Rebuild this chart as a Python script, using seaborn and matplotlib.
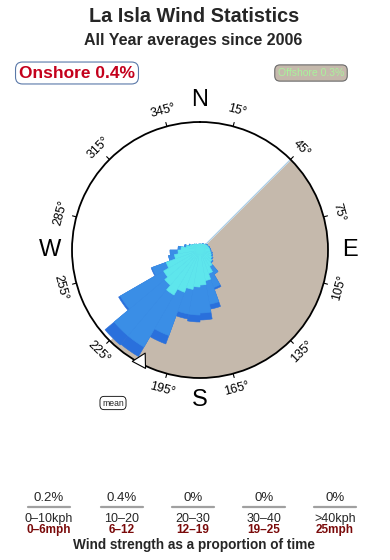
import numpy as np
import pandas as pd
import matplotlib
matplotlib.use("Agg")
import matplotlib.pyplot as plt
from matplotlib.lines import Line2D
import seaborn as sns

# ---------------- data ----------------
directions = [5, 15, 25, 35, 45, 55, 65, 75, 85, 95, 105, 115, 125, 135, 145, 155, 165, 175,
              185, 195, 205, 215, 225, 235, 245, 255, 265, 275, 285, 295, 305, 315, 325, 335, 345, 355]
# stacked frequency per direction (relative units, rim = 128)
speed_0_10 = [6, 6, 6.5, 7, 7.5, 8, 8.5, 9, 9.5, 10, 11, 12, 13.5, 15.5, 19, 25, 31, 35,
              37, 40, 45, 52, 46, 42, 36, 26, 22, 19, 14, 11, 9, 8, 7, 6, 6, 6]
speed_10_20 = [0, 0, 0.5, 0, 0.5, 1, 0.5, 1, 1, 1, 1.5, 1.5, 1.5, 1.5, 9, 15, 24, 28,
               28, 25, 46, 60, 66, 50, 15, 6, 8, 3, 2, 1, 0, 0, 0, 0, 0, 0]
speed_20_30 = [0, 0, 0, 0, 0, 0, 0, 0, 0, 0, 0, 0, 0, 0, 0, 2, 5, 7,
               7, 5, 9, 11, 12, 2, 1, 0, 0, 0, 0, 0, 0, 0, 0, 0, 0, 0]
sector_width = 10
rim_value = 128
offshore_start, offshore_end = 45, 225
mean_direction = 208

degree_labels = [15, 45, 75, 105, 135, 165, 195, 225, 255, 285, 315, 345]
cardinals = ["N", "E", "S", "W"]
cardinal_dirs = [0, 90, 180, 270]

bin_pct = ["0.2%", "0.4%", "0%", "0%", "0%"]
bin_kph = ["0\u201310kph", "10\u201320", "20\u201330", "30\u201340", ">40kph"]
bin_mph = ["0\u20136mph", "6\u201312", "12\u201319", "19\u201325", "25mph"]

title = "La Isla Wind Statistics"
subtitle = "All Year averages since 2006"
onshore_text = "Onshore 0.4%"
offshore_text = "Offshore 0.3%"
footer = "Wind strength as a proportion of time"

# ---------------- style ----------------
sns.set_theme(style="white")
plt.rcParams["font.family"] = ["Liberation Sans", "DejaVu Sans"]

c_cyan = "#5ee6ec"
c_mid = "#3a8ee6"
c_dark = "#2a70dc"
c_tan = "#c5b9ac"

W, H = 390, 560
fig = plt.figure(figsize=(W / 100, H / 100), dpi=100)
fig.patch.set_facecolor("white")

cx, cy, R = 200, 250, 128
ax = fig.add_axes([(cx - R) / W, (H - cy - R) / H, 2 * R / W, 2 * R / H], projection="polar")
ax.set_theta_zero_location("N")
ax.set_theta_direction(-1)
ax.set_facecolor("white")

# offshore sector
th = np.radians(np.linspace(offshore_start, offshore_end, 200))
ax.fill_between(th, 0, rim_value, color=c_tan, zorder=0.5, linewidth=0)
ax.plot([np.radians(offshore_start)] * 2, [0, rim_value], color="#a8cce8", lw=0.8, zorder=0.6)

# stacked bars, drawn as overlapping cumulative layers
df = pd.DataFrame({
    "theta": np.radians(directions),
    "low": speed_0_10,
    "mid": speed_10_20,
    "high": speed_20_30,
})
df["cum_mid"] = df["low"] + df["mid"]
df["cum_high"] = df["cum_mid"] + df["high"]

bw = np.radians(sector_width)
for col, colr in [("cum_high", c_dark), ("cum_mid", c_mid), ("low", c_cyan)]:
    n0 = len(ax.patches)
    sns.barplot(data=df, x="theta", y=col, native_scale=True, width=1.0, color=colr,
                saturation=1, errorbar=None, linewidth=0, ax=ax, zorder=2)
    # make every sector span its full bin width, and hide seams between sectors
    for p in ax.patches[n0:]:
        c = p.get_x() + p.get_width() / 2
        p.set_x(c - bw / 2)
        p.set_width(bw)
        p.set_edgecolor(colr)
        p.set_linewidth(0.4)

ax.set_xlabel("")
ax.set_ylabel("")
ax.set_xticks([])
ax.set_yticks([])
ax.grid(False)
ax.set_ylim(0, rim_value)
ax.set_xlim(0, 2 * np.pi)
ax.spines["polar"].set_color("black")
ax.spines["polar"].set_linewidth(1.3)

# degree ticks and labels
for d in degree_labels:
    t = np.radians(d)
    ax.plot([t, t], [rim_value, rim_value + 4], color="black", lw=0.8, clip_on=False)
    rot = -d
    if 90 < d < 270:
        rot = 180 - d
    ax.text(t, rim_value + 16, f"{d}\u00b0", rotation=rot,
            ha="center", va="center", fontsize=9, color="black", clip_on=False)

for lab, d in zip(cardinals, cardinal_dirs):
    ax.text(np.radians(d), rim_value + 22, lab, ha="center", va="center", fontsize=17,
            color="black", clip_on=False)

# mean direction arrow
tm = np.radians(mean_direction)
ax.annotate("", xy=(tm, rim_value - 14), xytext=(tm, rim_value - 1),
            arrowprops=dict(arrowstyle="simple,head_length=0.8,head_width=0.9,tail_width=0.35",
                            fc="white", ec="black", lw=0.8), zorder=5)

# ---------------- texts ----------------
def fx(x):
    return x / W

def fy(y):
    return 1 - y / H

fig.text(fx(194), fy(17), title, ha="center", va="center", fontsize=14.3, fontweight="bold")
fig.text(fx(193), fy(41), subtitle, ha="center", va="center", fontsize=11.5, fontweight="bold")

fig.text(fx(77), fy(73), onshore_text, ha="center", va="center", fontsize=12.5, fontweight="bold",
         color="#c4001c",
         bbox=dict(boxstyle="round,pad=0.2,rounding_size=0.4", fc="white", ec="#5a78a8", lw=0.8))
fig.text(fx(311), fy(73), offshore_text, ha="center", va="center", fontsize=7.5,
         color="#aaf29c",
         bbox=dict(boxstyle="round,pad=0.3,rounding_size=0.5", fc=c_tan, ec="#6a6a6a", lw=0.8))

fig.text(fx(113), fy(403), "mean", ha="center", va="center", fontsize=6.2,
         bbox=dict(boxstyle="round,pad=0.25,rounding_size=0.5", fc="white", ec="black", lw=0.6))

col_x = [49, 122, 193, 264, 335]
for x, p, k, m in zip(col_x, bin_pct, bin_kph, bin_mph):
    fig.text(fx(x), fy(498), p, ha="center", va="center", fontsize=9.5)
    fig.add_artist(Line2D([fx(x - 21), fx(x + 21)], [fy(507), fy(507)], color="#a0a0a0", lw=1.6))
    fig.text(fx(x), fy(519), k, ha="center", va="center", fontsize=9)
    fig.text(fx(x), fy(530), m, ha="center", va="center", fontsize=8.5, color="#7a0a0a",
             fontweight="bold")

fig.text(fx(194), fy(545), footer, ha="center", va="center", fontsize=9.8, fontweight="bold")

fig.savefig("out.png", dpi=100)
